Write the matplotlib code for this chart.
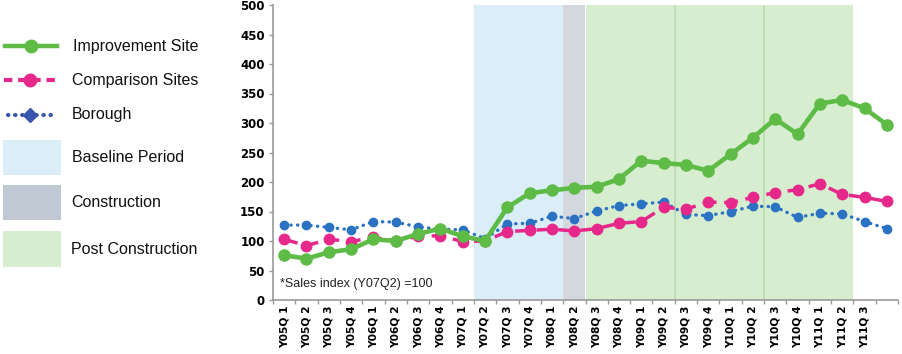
import matplotlib
matplotlib.use("Agg")
import matplotlib.pyplot as plt
from matplotlib.lines import Line2D
from matplotlib.patches import Rectangle

quarters = ["Y05Q 1", "Y05Q 2", "Y05Q 3", "Y05Q 4",
            "Y06Q 1", "Y06Q 2", "Y06Q 3", "Y06Q 4",
            "Y07Q 1", "Y07Q 2", "Y07Q 3", "Y07Q 4",
            "Y08Q 1", "Y08Q 2", "Y08Q 3", "Y08Q 4",
            "Y09Q 1", "Y09Q 2", "Y09Q 3", "Y09Q 4",
            "Y10Q 1", "Y10Q 2", "Y10Q 3", "Y10Q 4",
            "Y11Q 1", "Y11Q 2", "Y11Q 3", ""]

improvement = [76, 70, 81, 86, 103, 100, 112, 121, 108, 100, 157, 181, 186, 190,
               192, 205, 236, 232, 229, 219, 247, 275, 307, 281, 333, 339, 325, 297]
comparison = [103, 92, 103, 99, 106, 100, 108, 109, 99, 100, 116, 118, 120, 117,
              121, 130, 133, 157, 154, 166, 165, 174, 182, 187, 197, 179, 174, 167]
borough = [127, 127, 123, 119, 133, 132, 124, 120, 119, 104, 129, 130, 142, 138,
           151, 160, 163, 166, 145, 143, 150, 159, 158, 140, 147, 146, 133, 121]

# period spans as category index ranges (inclusive)
baseline_period = (9, 12)
construction_period = (13, 13)
post_period = (14, 25)
post_dividers = [17.5, 21.5]

yticks = [0, 50, 100, 150, 200, 250, 300, 350, 400, 450, 500]

GREEN = "#5DBB46"
PINK = "#E6288A"
BLUE = "#2B72C2"
BASE_C = "#DBEEF8"
CONS_C = "#D3D8DF"
POST_C = "#D6EDD0"

W, H = 902, 354
fig = plt.figure(figsize=(W / 100, H / 100), dpi=100)
ax = fig.add_axes([273 / W, 1 - 300 / H, (898 - 273) / W, (300 - 5) / H])

x = list(range(len(quarters)))

ax.axvspan(baseline_period[0] - 0.5, baseline_period[1] + 0.5, color=BASE_C, lw=0, zorder=0)
ax.axvspan(construction_period[0] - 0.5, construction_period[1] + 0.5, color=CONS_C, lw=0, zorder=0)
ax.axvspan(post_period[0] - 0.5, post_period[1] + 0.5, color=POST_C, lw=0, zorder=0)
for d in post_dividers:
    ax.axvline(d, color="#B9DAB0", lw=1.2, zorder=0.5)

ax.plot(x, borough, color=BLUE, lw=2.4, linestyle=(0, (0.1, 1.9)),
        dash_capstyle="round", marker="o", markersize=6, zorder=2)
ax.plot(x, comparison, color=PINK, lw=2.5, linestyle=(0, (4, 2.2)),
        marker="o", markersize=7.5, zorder=3)
ax.plot(x, improvement, color=GREEN, lw=3.3, marker="o", markersize=8, zorder=4)

ax.set_xlim(-0.5, len(quarters) - 0.5)
ax.set_ylim(0, 500)
ax.set_yticks(yticks)
ax.set_yticklabels([str(v) for v in yticks], fontsize=8.5, fontweight="bold",
                   family="DejaVu Sans")
ax.set_xticks(x)
ax.set_xticklabels(quarters, rotation=90, fontsize=7.7, fontweight="bold",
                   family="DejaVu Sans", va="top")
ax.set_xticks([i - 0.5 for i in range(len(quarters) + 1)], minor=True)
ax.tick_params(axis="x", which="major", length=0, pad=4)
ax.tick_params(axis="x", which="minor", length=3, color="#999999", width=1)
ax.tick_params(axis="y", length=3, color="#999999", width=1, pad=3)

for s in ["top", "right"]:
    ax.spines[s].set_visible(False)
for s in ["left", "bottom"]:
    ax.spines[s].set_color("#999999")
    ax.spines[s].set_linewidth(1.2)

ax.text(0.012, 0.055, "*Sales index (Y07Q2) =100", transform=ax.transAxes,
        fontsize=9, family="Liberation Sans", color="#222222", va="center", ha="left")

# legend on the left
def fx(px):
    return px / W

def fy(py):
    return 1 - py / H

legend_font = dict(fontsize=11.5, family="Liberation Sans", color="#111111", va="center")

fig.add_artist(Line2D([fx(5), fx(57)], [fy(46), fy(46)], color=GREEN, lw=3.2,
                      transform=fig.transFigure))
fig.add_artist(Line2D([fx(31)], [fy(46)], color=GREEN, marker="o", markersize=9,
                      transform=fig.transFigure))
fig.text(fx(73), fy(46), "Improvement Site", **legend_font)

fig.add_artist(Line2D([fx(4), fx(57)], [fy(80), fy(80)], color=PINK, lw=3,
                      linestyle=(0, (2.0, 1.4)), transform=fig.transFigure))
fig.add_artist(Line2D([fx(30)], [fy(80)], color=PINK, marker="o", markersize=9,
                      transform=fig.transFigure))
fig.text(fx(72), fy(80), "Comparison Sites", **legend_font)

fig.add_artist(Line2D([fx(8), fx(55)], [fy(115), fy(115)], color="#3A55AE", lw=3,
                      linestyle=(0, (0.1, 1.6)), dash_capstyle="round",
                      transform=fig.transFigure))
fig.add_artist(Line2D([fx(30)], [fy(115)], color="#3A55AE", marker="D", markersize=7,
                      transform=fig.transFigure))
fig.text(fx(72), fy(115), "Borough", **legend_font)

for (top, bottom, col, label, tx) in [(140, 175, BASE_C, "Baseline Period", 72),
                                      (185, 220, "#C0C8D4", "Construction", 71),
                                      (231, 267, POST_C, "Post Construction", 71)]:
    fig.add_artist(Rectangle((fx(3), fy(bottom)), fx(61) - fx(3), fy(top) - fy(bottom),
                             transform=fig.transFigure, color=col, lw=0))
    fig.text(fx(tx), fy((top + bottom) / 2), label, **legend_font)

fig.savefig("out.png", dpi=100)
